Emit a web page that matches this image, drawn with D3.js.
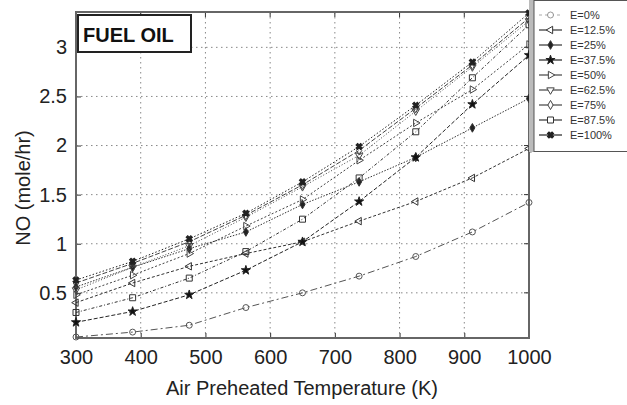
<!DOCTYPE html>
<html><head><meta charset="utf-8">
<script src="https://cdn.jsdelivr.net/npm/d3@7"></script>
<style>
html,body{margin:0;padding:0;background:#fff;}
svg{display:block;font-family:"Liberation Sans",Arial,sans-serif;}
</style></head>
<body>
<svg id="chart" width="627" height="405"></svg>
<script>
const temps = [300, 387.5, 475, 562.5, 650, 737.5, 825, 912.5, 1000];
const seriesNames = ["E=0%", "E=12.5%", "E=25%", "E=37.5%", "E=50%", "E=62.5%", "E=75%", "E=87.5%", "E=100%"];
const e0   = [0.05, 0.10, 0.17, 0.35, 0.50, 0.67, 0.87, 1.12, 1.42];
const e125 = [0.40, 0.60, 0.77, 0.90, 1.02, 1.23, 1.43, 1.67, 1.97];
const e25  = [0.56, 0.76, 0.95, 1.12, 1.40, 1.63, 1.88, 2.18, 2.48];
const e375 = [0.20, 0.31, 0.48, 0.73, 1.02, 1.43, 1.88, 2.42, 2.92];
const e50  = [0.48, 0.68, 0.90, 1.18, 1.45, 1.85, 2.23, 2.57, 3.03];
const e625 = [0.53, 0.76, 0.98, 1.27, 1.58, 1.90, 2.35, 2.80, 3.27];
const e75  = [0.60, 0.80, 1.02, 1.29, 1.60, 1.95, 2.38, 2.82, 3.30];
const e875 = [0.30, 0.45, 0.65, 0.92, 1.25, 1.67, 2.14, 2.69, 3.23];
const e100 = [0.63, 0.82, 1.05, 1.31, 1.63, 1.99, 2.41, 2.85, 3.35];
const xTicks = [300, 400, 500, 600, 700, 800, 900, 1000];
const yTicks = [0.5, 1, 1.5, 2, 2.5, 3];
const allValues = [e0, e125, e25, e375, e50, e625, e75, e875, e100];

// styles (not data)
const styles = [
  {sym: d3.symbolCircle, rot: 0, fill: "none", dash: "7,3,2,3", color: "#555", size: 28},
  {sym: d3.symbolTriangle, rot: -90, fill: "none", dash: "3,2", color: "#333", size: 24},
  {sym: d3.symbolDiamond, rot: 0, fill: "#222", dash: "1.5,1.5", color: "#333", size: 22},
  {sym: d3.symbolStar, rot: 0, fill: "#111", dash: "4,2", color: "#222", size: 26},
  {sym: d3.symbolTriangle, rot: 90, fill: "none", dash: "2,2", color: "#444", size: 24},
  {sym: d3.symbolTriangle, rot: 180, fill: "none", dash: "1,2", color: "#444", size: 24},
  {sym: d3.symbolDiamond, rot: 0, fill: "none", dash: "5,2", color: "#444", size: 24},
  {sym: d3.symbolSquare, rot: 0, fill: "none", dash: "3,2,1,2", color: "#333", size: 36},
  {sym: d3.symbolCross, rot: 45, fill: "#222", dash: "1.5,2", color: "#222", size: 24}
];

const svg = d3.select("#chart");
const L = 76, R = 529, T = 12, B = 338;
const x = d3.scaleLinear().domain([300, 1000]).range([L, R]);
const y = d3.scaleLinear().domain([0.04, 3.36]).range([B, T]);

// grid
const g = svg.append("g");
g.selectAll("line.gx").data(xTicks.slice(1, -1)).join("line")
  .attr("x1", d => x(d)).attr("x2", d => x(d)).attr("y1", T).attr("y2", B)
  .attr("stroke", "#888").attr("stroke-width", 1).attr("stroke-dasharray", "1.5,3.5");
g.selectAll("line.gy").data(yTicks).join("line")
  .attr("y1", d => y(d)).attr("y2", d => y(d)).attr("x1", L).attr("x2", R)
  .attr("stroke", "#888").attr("stroke-width", 1).attr("stroke-dasharray", "1.5,3.5");

// axes
const xAxis = d3.axisBottom(x).tickValues(xTicks).tickSize(-5).tickPadding(12).tickFormat(d3.format("d"));
const yAxis = d3.axisLeft(y).tickValues(yTicks).tickSize(-5).tickPadding(9).tickFormat(d => String(d));
const ax = svg.append("g").attr("transform", `translate(0,${B})`).call(xAxis);
const ay = svg.append("g").attr("transform", `translate(${L},0)`).call(yAxis);
[ax, ay].forEach(a => {
  a.select(".domain").remove();
  a.selectAll(".tick line").attr("stroke", "#333");
  a.selectAll(".tick text").attr("font-size", 20).attr("fill", "#222")
    .attr("font-family", "'Liberation Sans', Arial, sans-serif");
});
// top/right ticks
svg.append("g").selectAll("line").data(xTicks).join("line")
  .attr("x1", d => x(d)).attr("x2", d => x(d)).attr("y1", T).attr("y2", T + 5).attr("stroke", "#333");
svg.append("g").selectAll("line").data(yTicks).join("line")
  .attr("y1", d => y(d)).attr("y2", d => y(d)).attr("x1", R).attr("x2", R - 5).attr("stroke", "#333");

// box
svg.append("rect").attr("x", L).attr("y", T).attr("width", R - L).attr("height", B - T)
  .attr("fill", "none").attr("stroke", "#666").attr("stroke-width", 2);

// series
const line = d3.line().x((d, i) => x(temps[i])).y(d => y(d));
allValues.forEach((vals, k) => {
  const s = styles[k];
  svg.append("path").datum(vals).attr("d", line)
    .attr("fill", "none").attr("stroke", s.color).attr("stroke-width", 1)
    .attr("stroke-dasharray", s.dash);
  svg.append("g").selectAll("path").data(vals).join("path")
    .attr("d", d3.symbol().type(s.sym).size(s.size))
    .attr("transform", (d, i) => `translate(${x(temps[i])},${y(d)}) rotate(${s.rot})`)
    .attr("fill", s.fill === "none" ? "#fff" : s.fill).attr("fill-opacity", s.fill === "none" ? 0 : 1)
    .attr("stroke", s.color).attr("stroke-width", 1);
});

// FUEL OIL label
svg.append("rect").attr("x", 78).attr("y", 15).attr("width", 113).attr("height", 37)
  .attr("fill", "#fff").attr("stroke", "#222").attr("stroke-width", 2);
svg.append("text").attr("x", 83).attr("y", 42).attr("font-size", 20).attr("font-weight", "bold")
  .attr("fill", "#111").text("FUEL OIL");

// legend
svg.append("rect").attr("x", 529).attr("y", 0).attr("width", 5).attr("height", 152).attr("fill", "#bbb");
svg.append("rect").attr("x", 534).attr("y", 0.5).attr("width", 100).attr("height", 151)
  .attr("fill", "#fff").attr("stroke", "#555").attr("stroke-width", 1);
const lg = svg.append("g");
seriesNames.forEach((name, k) => {
  const s = styles[k];
  const yy = 15 + k * 15;
  lg.append("line").attr("x1", 539).attr("x2", 562).attr("y1", yy).attr("y2", yy)
    .attr("stroke", s.color).attr("stroke-width", 1.2).attr("stroke-dasharray", k === 0 ? "3,3" : null)
    .attr("stroke-opacity", k === 0 ? 0.5 : 1);
  lg.append("path").attr("d", d3.symbol().type(s.sym).size(s.size))
    .attr("transform", `translate(550.5,${yy}) rotate(${s.rot})`)
    .attr("fill", s.fill === "none" ? "#fff" : s.fill)
    .attr("stroke", s.color).attr("stroke-width", 1).attr("stroke-opacity", k === 0 ? 0.6 : 1);
  lg.append("text").attr("x", 570).attr("y", yy + 4).attr("font-size", 11).attr("fill", "#333").text(name);
});

// axis titles
svg.append("text").attr("x", 302).attr("y", 395).attr("text-anchor", "middle")
  .attr("font-size", 20).attr("fill", "#222").text("Air Preheated Temperature (K)");
svg.append("text").attr("transform", "translate(30,188) rotate(-90)").attr("text-anchor", "middle")
  .attr("font-size", 20).attr("fill", "#222").text("NO (mole/hr)");
</script>
</body></html>
